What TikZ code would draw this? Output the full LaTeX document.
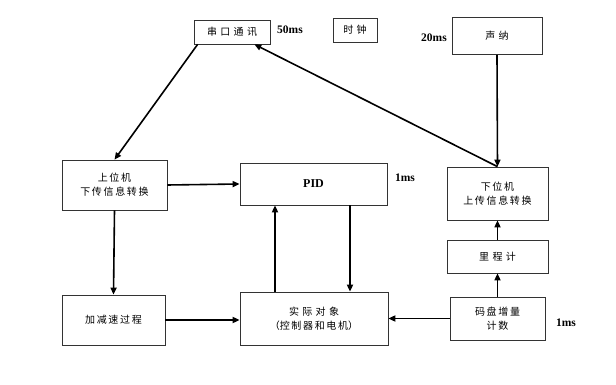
\documentclass[tikz,border=0pt]{standalone}
\usepackage{fontspec}
\setmainfont{Liberation Serif}
\newfontfamily\cjk{Noto Sans CJK SC}
\usetikzlibrary{arrows.meta}
\tikzset{
  box/.style={draw=black!80, line width=0.7pt, rectangle, align=center, inner sep=1pt, font=\cjk\fontsize{10}{14}\selectfont},
  conn/.style={line width=1.6pt, -{Triangle[length=7pt,width=6pt]}},
  lbl/.style={font=\bfseries\fontsize{11.5}{13}\selectfont, inner sep=0pt}
}
\begin{document}
\begin{tikzpicture}[x=1pt,y=-1pt]
\useasboundingbox (0,0) rectangle (616,385);
\node[box, minimum width=76pt, minimum height=24pt] (ck) at (232,32) {串\,\,口\,\,通\,\,讯};
\node[box, minimum width=44pt, minimum height=24pt] (clk) at (355,30) {时\,\,钟};
\node[box, minimum width=90pt, minimum height=37pt] (sn) at (497,36) {声\,\,纳};
\node[box, minimum width=105pt, minimum height=50pt] (up) at (114.5,185) {上\,位\,机\\下\,传\,信\,息\,转\,换};
\node[box, minimum width=147pt, minimum height=42pt, font=\bfseries\fontsize{12}{14}\selectfont] (pid) at (313.5,184) {PID};
\node[box, minimum width=101pt, minimum height=53pt] (dw) at (497.5,193.5) {下\,位\,机\\上\,传\,信\,息\,转\,换};
\node[box, minimum width=101pt, minimum height=33pt] (lc) at (497.5,256.5) {里\,\,程\,\,计};
\node[box, minimum width=95pt, minimum height=43pt] (mp) at (497.5,318.5) {码\,盘\,增\,量\\计\,数};
\node[box, minimum width=103pt, minimum height=50pt] (jj) at (113.5,320) {加\,减\,速\,过\,程};
\node[box, minimum width=148pt, minimum height=53pt] (sj) at (314,318.5) {实\,\,际\,\,对\,\,象\\（控\,制\,器\,和\,电\,机）};
\node[lbl] (l50) at (290,30) {50ms};
\node[lbl] (l1a) at (405,178) {1ms};
\node[lbl] (l20) at (434,38) {20ms};
\node[lbl] (l1b) at (566,323) {1ms};
\coordinate (ckA) at ([xshift=4pt]ck.south west);
\coordinate (ckB) at ([xshift=-16pt]ck.south east);
\draw[conn] (ckA) -- (up.north);
\draw[conn] (sn.south) -- (dw.north);
\draw[conn] (dw.north) -- (ckB);
\draw[conn] (up.east) -- (pid.west);
\draw[conn] (up.south) -- (jj.north);
\draw[conn] (jj.east) -- (jj.east -| sj.west);
\draw[conn] (mp.west) -- (mp.west -| sj.east);
\draw[conn] (mp.north) -- (lc.south);
\draw[conn] (lc.north) -- (dw.south);
\draw[conn] (sj.north -| 275,0) -- (pid.south -| 275,0);
\draw[conn] (pid.south -| 350,0) -- (sj.north -| 350,0);
\end{tikzpicture}
\end{document}
